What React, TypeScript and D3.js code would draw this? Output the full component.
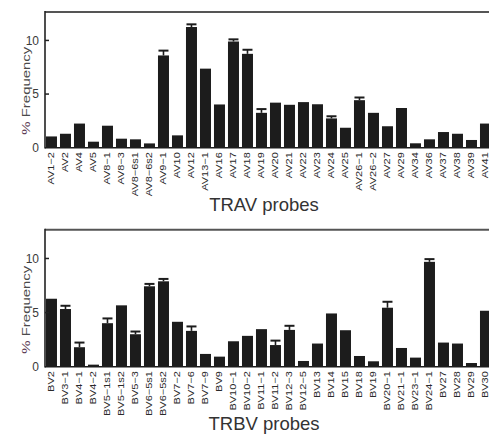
import React from "react";
import * as d3 from "d3";

const travProbes = ["AV1−2","AV2","AV4","AV5","AV8−1","AV8−3","AV8−6s1","AV8−6s2","AV9−1","AV10","AV12","AV13−1","AV16","AV17","AV18","AV19","AV20","AV21","AV22","AV23","AV24","AV25","AV26−1","AV26−2","AV27","AV29","AV34","AV36","AV37","AV38","AV39","AV41"];
const travValues = [1.05,1.3,2.25,0.56,2.05,0.84,0.78,0.4,8.6,1.15,11.25,7.37,4.03,9.9,8.75,3.25,4.2,4.0,4.25,4.05,2.73,1.86,4.43,3.25,2.0,3.7,0.41,0.78,1.46,1.3,0.72,2.25];
const travErrors = [0,0,0,0,0,0,0,0,0.45,0,0.25,0,0,0.2,0.38,0.35,0,0,0,0,0.2,0,0.25,0,0,0,0,0,0,0,0,0];

const trbvProbes = ["BV2","BV3−1","BV4−1","BV4−2","BV5−1s1","BV5−1s2","BV5−3","BV6−5s1","BV6−5s2","BV7−2","BV7−6","BV7−9","BV9","BV10−1","BV10−2","BV11−1","BV11−2","BV12−3","BV12−5","BV13","BV14","BV15","BV18","BV19","BV20−1","BV21−1","BV23−1","BV24−1","BV27","BV28","BV29","BV30"];
const trbvValues = [6.28,5.33,1.8,0.19,4.02,5.67,3.0,7.43,7.89,4.15,3.31,1.18,0.93,2.35,2.85,3.47,2.0,3.4,0.53,2.14,4.92,3.37,0.99,0.5,5.45,1.73,0.84,9.69,2.23,2.14,0.34,5.17];
const trbvErrors = [0,0.3,0.43,0,0.44,0,0.25,0.22,0.22,0,0.41,0,0,0,0,0,0.41,0.38,0,0,0,0,0,0,0.55,0,0,0.25,0,0,0,0];

const yTicks = [0, 5, 10];
const yMax = 12.65;

const FONT = "'Liberation Sans', Arial, Helvetica, sans-serif";

type PanelProps = {
  probes: string[];
  values: number[];
  errors: number[];
  title: string;
  top: number;
  bottom: number;
};

function Panel({ probes, values, errors, title, top, bottom }: PanelProps) {
  const x0 = 45;
  const step = 14;
  const pI = 3 / 14;
  const pO = 0.07;
  const x = d3
    .scaleBand<string>()
    .domain(probes)
    .range([x0, x0 + step * (probes.length - pI + 2 * pO)])
    .paddingInner(pI)
    .paddingOuter(pO);
  const y = d3.scaleLinear().domain([0, yMax]).range([bottom, top]);
  const bw = x.bandwidth();
  const midY = bottom - 57;

  return (
    <g>
      {probes.map((p, i) => (
        <rect
          key={p}
          x={x(p)!}
          y={y(values[i])}
          width={bw}
          height={y(0) - y(values[i])}
          fill="#1c1c1c"
        />
      ))}
      {probes.map((p, i) =>
        errors[i] > 0 ? (
          <g key={"e" + p} stroke="#1c1c1c" strokeWidth={1.6}>
            <line
              x1={x(p)! + bw / 2}
              x2={x(p)! + bw / 2}
              y1={y(values[i])}
              y2={y(values[i] + errors[i])}
            />
            <line
              x1={x(p)! + 0.5}
              x2={x(p)! + bw - 0.5}
              y1={y(values[i] + errors[i])}
              y2={y(values[i] + errors[i])}
              strokeWidth={2}
            />
          </g>
        ) : null
      )}
      <line x1={x0} x2={500} y1={top} y2={top} stroke="#555" strokeWidth={2} />
      <line x1={x0} x2={x0} y1={top - 1} y2={bottom + 0.8} stroke="#222" strokeWidth={1.6} />
      <line x1={x0} x2={500} y1={bottom} y2={bottom} stroke="#1c1c1c" strokeWidth={1.5} />
      {yTicks.map((t) => (
        <g key={t}>
          {t > 0 && (
            <line x1={x0} x2={x0 + 4} y1={y(t)} y2={y(t)} stroke="#222" strokeWidth={1.5} />
          )}
          <text
            x={39}
            y={y(t)}
            dy="0.36em"
            textAnchor="end"
            fontSize={12}
            fill="#3a3a3a"
            fontFamily={FONT}
          >
            {t}
          </text>
        </g>
      ))}
      <text
        transform={`translate(29.5, ${midY}) rotate(-90)`}
        textAnchor="middle"
        fontSize={10.5}
        fill="#4a4a4a"
        fontFamily={FONT}
        textLength={88}
        lengthAdjust="spacingAndGlyphs"
      >
        <tspan fill="#5a3a52">%</tspan> Frequency
      </text>
      {probes.map((p) => (
        <text
          key={"l" + p}
          transform={`translate(${x(p)! + bw / 2 + 3}, ${bottom + 4.5}) rotate(-90) scale(1.22,1)`}
          textAnchor="end"
          fontSize={9}
          fill="#2a2a2a"
          fontFamily={FONT}
        >
          {p}
        </text>
      ))}
      <text
        x={264}
        y={bottom + 63}
        textAnchor="middle"
        fontSize={18.5}
        fill="#333"
        fontFamily={FONT}
      >
        {title}
      </text>
    </g>
  );
}

export default function App() {
  return (
    <svg
      width={489}
      height={434}
      style={{ position: "absolute", left: 0, top: 0, background: "#fff" }}
    >
      <rect width={489} height={434} fill="#fff" />
      <Panel
        probes={travProbes}
        values={travValues}
        errors={travErrors}
        title="TRAV probes"
        top={12}
        bottom={147.7}
      />
      <Panel
        probes={trbvProbes}
        values={trbvValues}
        errors={trbvErrors}
        title="TRBV probes"
        top={229.8}
        bottom={366.7}
      />
    </svg>
  );
}
